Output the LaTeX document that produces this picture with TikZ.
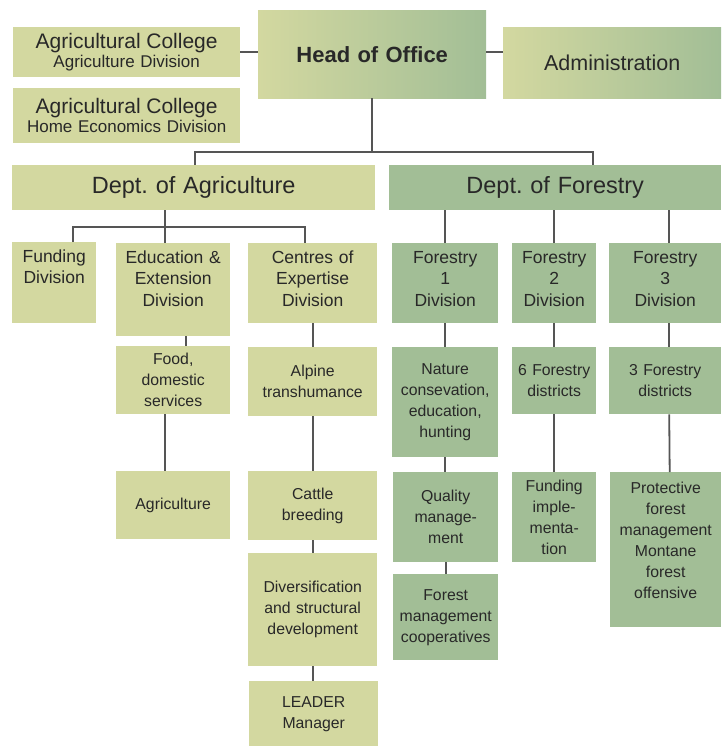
\documentclass[tikz,border=0pt]{standalone}
\usepackage{fontspec}
\setmainfont{Liberation Sans}
\definecolor{colagri}{RGB}{211,216,160}
\definecolor{colforest}{RGB}{162,190,150}
\definecolor{ink}{RGB}{40,40,40}
\definecolor{linegray}{RGB}{85,85,85}

\begin{document}
\begin{tikzpicture}[x=1pt,y=-1pt,inner sep=0pt,align=center,text=ink]
  \tikzstyle{box}=[anchor=north west,inner sep=0pt]
  \tikzstyle{agri}=[box,fill=colagri]
  \tikzstyle{forest}=[box,fill=colforest]
  \tikzstyle{grad}=[box,left color=colagri,right color=colforest]
  \tikzstyle{big}=[font=\fontsize{23.5}{26}\selectfont]
  \tikzstyle{hdr}=[text height=20pt,font=\fontsize{17.5}{21.5}\selectfont]
  \tikzstyle{item}=[font=\fontsize{15.8}{21}\selectfont]
  \tikzstyle{wire}=[draw=linegray,line width=1.8pt]

  \useasboundingbox (0,0) rectangle (721,746);

  % top
  \node[agri,text width=227pt,minimum height=50pt,font=\fontsize{17}{19}\selectfont] (col_1) at (13,27)
    {{\fontsize{21}{19}\selectfont Agricultural College}\\Agriculture Division};
  \node[agri,text width=227pt,minimum height=55pt,font=\fontsize{17}{19}\selectfont] (col_2) at (13,88)
    {{\fontsize{21}{19}\selectfont Agricultural College}\\Home Economics Division};
  \node[grad,text width=228pt,minimum height=88pt,font=\bfseries\fontsize{22}{26}\selectfont] (head) at (258,10) {Head of Office};
  \node[grad,text width=218pt,minimum height=71pt,font=\fontsize{21.5}{26}\selectfont] (admin) at (503,27) {Administration};

  \node[agri,big,text width=363pt,minimum height=45pt] (dept_agr) at (12,165) {Dept.\ of Agriculture};
  \node[forest,big,text width=332pt,minimum height=45pt] (dept_for) at (389,165) {Dept.\ of Forestry};

  % agriculture
  \node[agri,hdr,text width=84pt,text depth=61pt] (fund) at (12,242) {Funding\\Division};
  \node[agri,hdr,text width=114pt,text depth=73pt] (edu) at (116,243) {Education \&\\Extension\\Division};
  \node[agri,hdr,text width=129pt,text depth=60pt] (cent) at (248,243) {Centres of\\Expertise\\Division};
  \node[agri,item,text width=114pt,minimum height=68pt] (food) at (116,346) {Food,\\domestic\\services};
  \node[agri,item,text width=114pt,minimum height=68pt] (agric) at (116,471) {Agriculture};
  \node[agri,item,text width=129pt,minimum height=69pt] (alpine) at (248,347) {Alpine\\transhumance};
  \node[agri,item,text width=129pt,minimum height=69pt] (cattle) at (248,471) {Cattle\\breeding};
  \node[agri,item,text width=129pt,minimum height=113pt] (divers) at (248,553) {Diversification\\and structural\\development};
  \node[agri,item,text width=129pt,minimum height=65pt] (leader) at (249,681) {LEADER\\Manager};

  % forestry
  \node[forest,hdr,text width=106pt,text depth=60pt] (f_1) at (392,243) {Forestry\\1\\Division};
  \node[forest,hdr,text width=84pt,text depth=60pt] (f_2) at (512,243) {Forestry\\2\\Division};
  \node[forest,hdr,text width=112pt,text depth=60pt] (f_3) at (609,243) {Forestry\\3\\Division};
  \node[forest,item,text width=106pt,minimum height=110pt] (nature) at (392,347) {Nature\\consevation,\\education,\\hunting};
  \node[forest,item,text width=105pt,minimum height=90pt] (quality) at (393,472) {Quality\\manage-\\ment};
  \node[forest,item,text width=105pt,minimum height=86pt] (coop) at (393,574) {Forest\\management\\cooperatives};
  \node[forest,item,text width=84pt,minimum height=67pt] (distr_6) at (512,347) {6 Forestry\\districts};
  \node[forest,item,text width=84pt,minimum height=90pt] (impl) at (512,472) {Funding\\imple-\\menta-\\tion};
  \node[forest,item,text width=112pt,minimum height=67pt] (distr_3) at (609,347) {3 Forestry\\districts};
  \node[forest,item,text width=111pt,text height=21pt,text depth=134pt] (protect) at (610,472)
    {Protective\\forest\\management\\Montane\\forest\\offensive};

  % junctions
  \coordinate (top_l) at (195,152);
  \coordinate (top_r) at (593,152);
  \coordinate (agr_l) at (73,227);
  \coordinate (agr_m) at (165,227);
  \coordinate (agr_r) at (305,227);

  \draw[wire] (col_1.east) -- (col_1.east -| head.west);
  \draw[wire] (head.east |- col_1.east) -- (admin.west |- col_1.east);
  \draw[wire] (head.south) -- (head.south |- top_l);
  \draw[wire] (top_l |- dept_agr.north) -- (top_l) -- (top_r) -- (top_r |- dept_for.north);
  \draw[wire] (agr_m |- dept_agr.south) -- (agr_m |- edu.north);
  \draw[wire] (agr_l |- fund.north) -- (agr_l) -- (agr_r) -- (agr_r |- cent.north);

  \path[wire]
  ([xshift=13]edu.south)   edge ([xshift=13]food.north)
  ([xshift=-8]food.south)  edge ([xshift=-8]agric.north)
  (cent.south)             edge (cent.south |- alpine.north)
  (alpine.south)           edge (alpine.south |- cattle.north)
  (cattle.south)           edge (cattle.south |- divers.north)
  (divers.south)           edge (divers.south |- leader.north)
  (f_1.north |- dept_for.south) edge (f_1.north)
  (f_2.north |- dept_for.south) edge (f_2.north)
  ([xshift=4]f_3.north |- dept_for.south) edge ([xshift=4]f_3.north)
  (f_1.south)              edge (f_1.south |- nature.north)
  (nature.south)           edge (nature.south |- quality.north)
  (quality.south)          edge (quality.south |- coop.north)
  (f_2.south)              edge (f_2.south |- distr_6.north)
  (distr_6.south)          edge (distr_6.south |- impl.north)
  ([xshift=4]f_3.south)    edge ([xshift=4]distr_3.north)
  ([xshift=4]distr_3.south) edge ([xshift=4]protect.north);
\end{tikzpicture}
\end{document}
